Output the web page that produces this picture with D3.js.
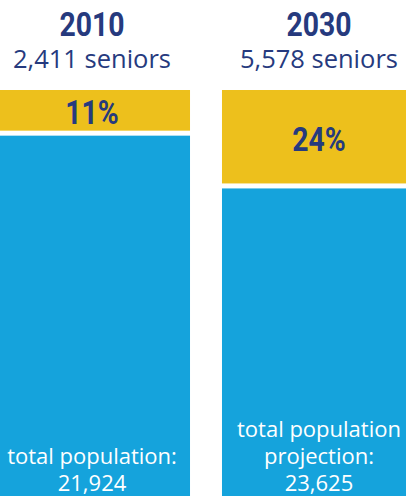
<!DOCTYPE html>
<html>
<head>
<meta charset="utf-8">
<script src="https://cdn.jsdelivr.net/npm/d3@7"></script>
<style>
  body { margin: 0; background: #fff; }
  .head { font-family: Roboto, "Liberation Sans", sans-serif; font-weight: bold; fill: #263a7e; }
  .sub { font-family: "Open Sans", "Noto Sans", sans-serif; fill: #263a7e; }
  .tot { font-family: "Open Sans", "Noto Sans", sans-serif; fill: #fff; }
</style>
</head>
<body>
<svg width="406" height="496"></svg>
<script>
var years = ["2010", "2030"];
var seniors = [2411, 5578];
var shares = [11, 24];   // % seniors
var totalLines = [["total population:", "21,924"], ["total population", "projection:", "23,625"]];

var data = years.map(function(y, i) {
    return { year: y, seniors: seniors[i], share: shares[i], lines: totalLines[i] };
});

var svg = d3.select("svg"),
    width = +svg.attr("width"),
    height = +svg.attr("height");

var x = d3.scaleBand().domain(years).range([0, 412]).paddingInner(0.144).paddingOuter(0);
var y = d3.scaleLinear().domain([0, 100]).range([90, height]);
var gap = 5;

var g = svg.selectAll(".col")
    .data(data)
    .enter().append("g")
    .attr("class", "col");

// yellow = seniors share
g.append("rect")
    .attr("x", function(d) { return x(d.year); })
    .attr("y", y(0))
    .attr("width", x.bandwidth())
    .attr("height", function(d) { return y(d.share) - y(0) - 4; })
    .attr("fill", "#edc01c");

// blue = rest of population
g.append("rect")
    .attr("x", function(d) { return x(d.year); })
    .attr("y", function(d) { return y(d.share) + gap - 4; })
    .attr("width", x.bandwidth())
    .attr("height", function(d) { return y(100) - y(d.share) - gap + 4; })
    .attr("fill", "#15a3dc");

var cx = function(d, i) { return x(d.year) + x.bandwidth() / 2 + (i == 0 ? -3 : 2); };

// condensed bold look: squeeze horizontally
var squeezed = function(sel, xf, yf, txt) {
    sel.append("text")
        .attr("class", "head")
        .attr("transform", function(d, i) { return "translate(" + xf(d, i) + "," + yf(d) + ") scale(0.86,1)"; })
        .attr("text-anchor", "middle")
        .style("font-size", "33px")
        .text(txt);
};

squeezed(g, cx, function() { return 36; }, function(d) { return d.year; });

g.append("text")
    .attr("class", "sub")
    .attr("x", cx)
    .attr("y", 68)
    .attr("text-anchor", "middle")
    .style("font-size", "25.5px")
    .text(function(d) { return d3.format(",")(d.seniors) + " seniors"; });

squeezed(g, cx, function(d) { return (y(0) + y(d.share) - 4) / 2 + 14; }, function(d) { return d.share + "%"; });

g.each(function(d, i) {
    var n = d.lines.length;
    d3.select(this).selectAll(".tot")
        .data(d.lines)
        .enter().append("text")
        .attr("class", "tot")
        .attr("x", cx(d, i))
        .attr("y", function(t, j) { return 491 - (n - 1 - j) * 27; })
        .attr("text-anchor", "middle")
        .style("font-size", "22px")
        .text(function(t) { return t; });
});
</script>
</body>
</html>
